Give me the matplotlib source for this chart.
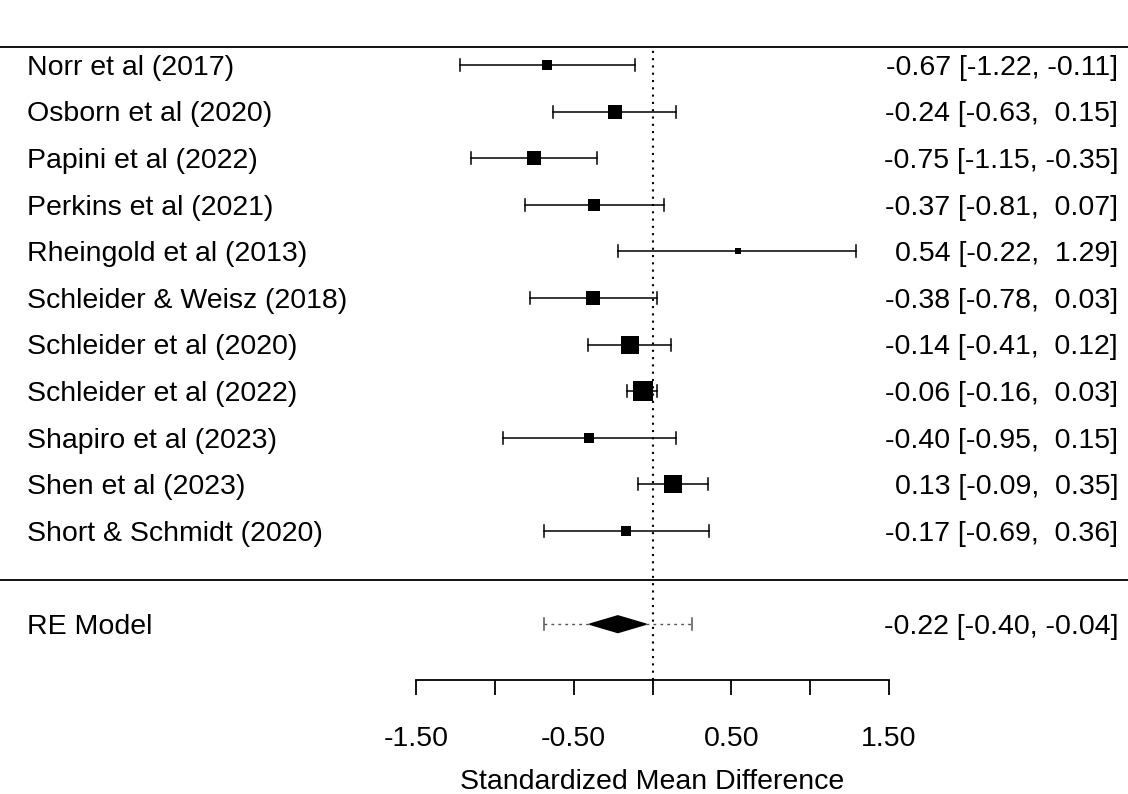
import matplotlib

matplotlib.use("Agg")
import matplotlib.pyplot as plt  # noqa: E402
from matplotlib.patches import Polygon  # noqa: E402

plt.rcParams["font.family"] = ["Liberation Sans", "DejaVu Sans"]

STUDIES = ["Norr et al (2017)", "Osborn et al (2020)", "Papini et al (2022)",
           "Perkins et al (2021)", "Rheingold et al (2013)", "Schleider & Weisz (2018)",
           "Schleider et al (2020)", "Schleider et al (2022)", "Shapiro et al (2023)",
           "Shen et al (2023)", "Short & Schmidt (2020)"]
EST = [-0.67, -0.24, -0.75, -0.37, 0.54, -0.38, -0.14, -0.06, -0.40, 0.13, -0.17]
LOW = [-1.22, -0.63, -1.15, -0.81, -0.22, -0.78, -0.41, -0.16, -0.95, -0.09, -0.69]
HIGH = [-0.11, 0.15, -0.35, 0.07, 1.29, 0.03, 0.12, 0.03, 0.15, 0.35, 0.36]
# approximate random-effects weights (%), only used for square sizes
WEIGHT = [6.8, 9.8, 9.3, 8.6, 4.4, 9.2, 12.3, 14.9, 6.8, 13.4, 7.3]

RE_EST, RE_LOW, RE_HIGH = -0.22, -0.40, -0.04
PI_LOW, PI_HIGH = -0.69, 0.25

TICKS = [-1.5, -1.0, -0.5, 0.0, 0.5, 1.0, 1.5]
TICK_LABELS = ["-1.50", "", "-0.50", "", "0.50", "", "1.50"]


def fmt(v):
    return f"{v:.2f}"


def main():
    fig = plt.figure(figsize=(11.28, 7.94), dpi=100)
    ax = fig.add_axes([0, 0, 1, 1])
    ax.set_xlim(-4.138, 3.015)
    ax.set_ylim(-4.644, 12.395)
    for s in ("top", "left", "right"):
        ax.spines[s].set_visible(False)
    ax.set_yticks([])

    fs = 20.5
    dy = -0.06  # nudge text so it sits on the row centre
    k = len(STUDIES)
    wmin, wmax = min(WEIGHT), max(WEIGHT)
    for i, name in enumerate(STUDIES):
        y = k - i
        ax.plot([LOW[i], HIGH[i]], [y, y], color="black", lw=1.1)
        for xe in (LOW[i], HIGH[i]):
            ax.plot([xe, xe], [y - 0.13, y + 0.13], color="black", lw=1.1)
        psize = 0.5 + (WEIGHT[i] - wmin) / (wmax - wmin)
        ax.plot(EST[i], y, marker="s", color="black", ms=psize * 13.8 * 0.72, mew=0, zorder=4)
        ax.text(-3.966, y + dy, name, ha="left", va="center", fontsize=fs)
        hi = fmt(HIGH[i]) if HIGH[i] < 0 else " " + fmt(HIGH[i])
        ax.text(2.952, y + dy, f"{fmt(EST[i])} [{fmt(LOW[i])}, {hi}]",
                ha="right", va="center", fontsize=fs)

    # summary row
    yre = -1
    ax.plot([PI_LOW, RE_LOW], [yre, yre], color="#555555", lw=1.0, ls=(0, (2, 3)))
    ax.plot([RE_HIGH, PI_HIGH], [yre, yre], color="#555555", lw=1.0, ls=(0, (2, 3)))
    for xe in (PI_LOW, PI_HIGH):
        ax.plot([xe, xe], [yre - 0.13, yre + 0.13], color="#555555", lw=1.1)
    diamond = Polygon([[RE_LOW, yre], [RE_EST, yre + 0.18], [RE_HIGH, yre], [RE_EST, yre - 0.18]],
                      closed=True, color="black", zorder=4)
    ax.add_patch(diamond)
    ax.text(-3.966, yre + dy, "RE Model", ha="left", va="center", fontsize=fs)
    ax.text(2.952, yre + dy, f"{fmt(RE_EST)} [{fmt(RE_LOW)}, {fmt(RE_HIGH)}]",
            ha="right", va="center", fontsize=fs)

    # horizontal rules and reference line
    ax.axhline(11.39, color="black", lw=1.3)
    ax.axhline(-0.05, color="black", lw=1.3)
    ax.plot([0, 0], [-2.2, 11.39], color="black", lw=1.5, ls=(0, (1, 2.5)), zorder=3)

    # x axis
    ax.spines["bottom"].set_position(("data", -2.2))
    ax.spines["bottom"].set_bounds(-1.5, 1.5)
    ax.spines["bottom"].set_linewidth(1.3)
    ax.set_xticks(TICKS)
    ax.set_xticklabels(TICK_LABELS, fontsize=fs)
    ax.tick_params(axis="x", direction="out", length=10.8, width=1.3, pad=22)
    ax.text(0, -4.38, "Standardized Mean Difference", ha="center", va="center", fontsize=fs)

    fig.savefig("out.png", dpi=100)
    plt.close(fig)


if __name__ == "__main__":
    main()
